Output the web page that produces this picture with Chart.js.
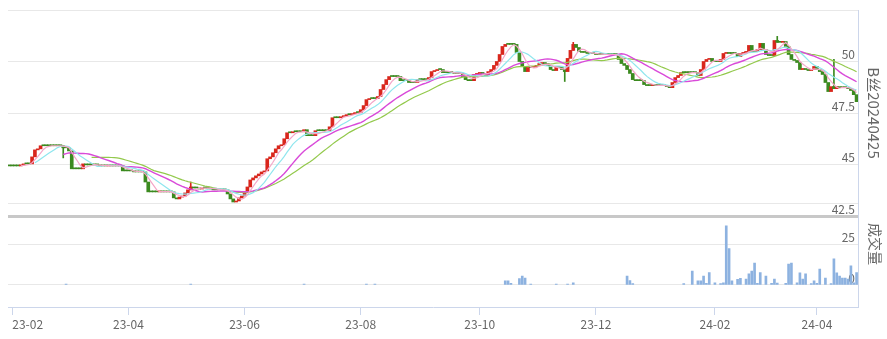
<!DOCTYPE html>
<html>
<head>
<meta charset="utf-8">
<script src="https://cdn.jsdelivr.net/npm/chart.js@4.4.1/dist/chart.umd.min.js"></script>
<style>
  html, body { margin: 0; padding: 0; background: #fff; }
  #wrap { position: relative; width: 887px; height: 339px; }
  #wrap canvas { position: absolute; left: 0; top: 0; }
</style>
</head>
<body>
<div id="wrap">
  <canvas id="kline" width="887" height="339"></canvas>
  <canvas id="vol" width="887" height="339"></canvas>
</div>
<script>
// daily closes, one per trading day
var closes = [
  44.93,44.93,44.93,44.93,44.98,45.03,45.03,45.03,45.37,45.71,
  45.76,45.91,45.91,45.91,45.91,45.91,45.91,45.91,45.91,45.81,
  45.81,45.66,44.79,44.79,44.79,44.79,45.03,44.98,44.98,44.98,
  44.98,44.98,44.93,44.93,44.93,44.98,44.93,44.93,44.93,44.93,
  44.69,44.69,44.69,44.69,44.64,44.64,44.64,44.64,44.15,43.67,
  43.67,43.67,43.67,43.72,43.67,43.67,43.67,43.67,43.38,43.33,
  43.42,43.47,43.62,43.77,43.91,43.86,43.86,43.81,43.86,43.86,
  43.86,43.81,43.77,43.77,43.77,43.77,43.77,43.57,43.33,43.18,
  43.23,43.38,43.47,43.67,43.91,44.25,44.35,44.45,44.54,44.64,
  44.69,45.28,45.37,45.57,45.76,45.91,45.96,46.25,46.54,46.54,
  46.59,46.59,46.59,46.59,46.69,46.40,46.40,46.40,46.64,46.64,
  46.64,46.64,46.64,46.83,47.27,47.27,47.27,47.32,47.37,47.42,
  47.42,47.47,47.52,47.52,47.66,47.86,48.15,48.20,48.20,48.20,
  48.30,48.64,48.88,49.12,49.27,49.27,49.27,49.27,49.07,49.07,
  49.07,48.98,48.98,48.98,49.12,49.12,49.12,49.12,49.22,49.51,
  49.56,49.61,49.61,49.46,49.46,49.46,49.46,49.42,49.42,49.42,
  49.27,49.12,49.07,49.07,49.37,49.42,49.46,49.42,49.32,49.51,
  49.61,49.81,50.00,50.34,50.73,50.83,50.83,50.83,50.83,50.44,
  50.00,49.76,49.51,49.71,49.71,49.76,49.81,49.90,49.95,49.90,
  49.81,49.61,49.56,49.76,49.71,49.61,49.51,50.15,50.54,50.83,
  50.68,50.49,50.44,50.44,50.39,50.39,50.39,50.34,50.34,50.34,
  50.34,50.34,50.34,50.34,50.34,50.10,49.90,49.81,49.61,49.42,
  49.12,49.07,49.07,49.07,48.88,48.83,48.83,48.88,48.83,48.83,
  48.83,48.83,48.78,48.73,48.98,49.22,49.32,49.46,49.46,49.46,
  49.46,49.46,49.46,49.32,49.61,50.00,50.10,50.15,50.00,50.00,
  50.00,50.10,50.39,50.44,50.39,50.39,50.39,50.24,50.39,50.44,
  50.49,50.78,50.49,50.49,50.58,50.88,50.58,50.34,50.29,50.29,
  51.02,50.93,50.93,50.97,50.73,50.34,50.10,50.05,49.95,49.61,
  49.66,49.61,49.56,49.61,49.76,49.61,49.51,49.37,48.98,48.54,
  48.78,48.68,48.78,48.73,48.73,48.73,48.68,48.59,48.39,48.05
];

// daily opens (the candles open where the previous one closed)
var opens = [
  44.93,44.93,44.93,44.93,44.93,44.98,45.03,45.03,45.03,45.37,
  45.71,45.76,45.91,45.91,45.91,45.91,45.91,45.91,45.91,45.91,
  45.81,45.81,45.66,44.79,44.79,44.79,44.79,45.03,44.98,44.98,
  44.98,44.98,44.98,44.93,44.93,44.93,44.98,44.93,44.93,44.93,
  44.93,44.69,44.69,44.69,44.69,44.64,44.64,44.64,44.64,44.15,
  43.67,43.67,43.67,43.67,43.72,43.67,43.67,43.67,43.67,43.38,
  43.33,43.42,43.47,43.62,43.77,43.91,43.86,43.86,43.81,43.86,
  43.86,43.86,43.81,43.77,43.77,43.77,43.77,43.77,43.57,43.33,
  43.18,43.23,43.38,43.47,43.67,43.91,44.25,44.35,44.45,44.54,
  44.64,44.69,45.28,45.37,45.57,45.76,45.91,45.96,46.25,46.54,
  46.54,46.59,46.59,46.59,46.59,46.69,46.40,46.40,46.40,46.64,
  46.64,46.64,46.64,46.64,46.83,47.27,47.27,47.27,47.32,47.37,
  47.42,47.42,47.47,47.52,47.52,47.66,47.86,48.15,48.20,48.20,
  48.20,48.30,48.64,48.88,49.12,49.27,49.27,49.27,49.27,49.07,
  49.07,49.07,48.98,48.98,48.98,49.12,49.12,49.12,49.12,49.22,
  49.51,49.56,49.61,49.61,49.46,49.46,49.46,49.46,49.42,49.42,
  49.42,49.27,49.12,49.07,49.07,49.37,49.42,49.46,49.42,49.32,
  49.51,49.61,49.81,50.00,50.34,50.73,50.83,50.83,50.83,50.83,
  50.44,50.00,49.76,49.51,49.71,49.71,49.76,49.81,49.90,49.95,
  49.90,49.81,49.61,49.56,49.76,49.71,49.61,49.51,50.15,50.54,
  50.83,50.68,50.49,50.44,50.44,50.39,50.39,50.39,50.34,50.34,
  50.34,50.34,50.34,50.34,50.34,50.34,50.10,49.90,49.81,49.61,
  49.42,49.12,49.07,49.07,49.07,48.88,48.83,48.83,48.88,48.83,
  48.83,48.83,48.83,48.78,48.73,48.98,49.22,49.32,49.46,49.46,
  49.46,49.46,49.46,49.46,49.32,49.61,50.00,50.10,50.15,50.00,
  50.00,50.00,50.10,50.39,50.44,50.39,50.39,50.39,50.24,50.39,
  50.44,50.49,50.78,50.49,50.49,50.58,50.88,50.58,50.34,50.29,
  50.29,51.02,50.93,50.93,50.97,50.73,50.34,50.10,50.05,49.95,
  49.61,49.66,49.61,49.56,49.61,49.76,49.61,49.51,49.37,48.98,
  48.54,48.78,48.68,48.78,48.73,48.73,48.73,48.68,48.59,48.39
];

// the few candles with visible shadows
var wickIdx  = [19,    64,    196,   199,   271,   291];
var wickHigh = [45.91, 44.15, 49.61, 50.93, 51.22, 50.10];
var wickLow  = [45.32, 43.77, 49.03, 50.54, 50.93, 48.68];

// volume (only days with a visible bar)
var volIdx = [20,64,104,126,129,175,176,177,180,181,182,184,193,197,199,218,219,220,238,241,
  243,244,245,246,247,249,251,252,253,254,255,257,258,260,261,262,263,264,265,267,
  269,270,271,274,275,276,278,279,280,281,283,284,285,286,288,290,291,292,293,294,
  295,296,297,298,299];
var volVal = [0.5,0.5,0.5,0.5,0.5,2.5,2.5,1,4,5.5,4.3,0.6,0.6,0.6,1.4,5.5,2.7,0.8,0.8,8.6,
  2.5,2.5,5.5,1,7.6,1.4,0.8,1.4,36.3,22.3,2.5,3.5,4.1,3.7,6.8,8.6,13.5,1,7.6,5.5,
  1,3.7,1.2,1,12.9,13.5,1.4,7.4,3.7,6.8,0.8,2.5,1,9.8,4.3,0.8,16,7.4,5.5,4.3,
  4.3,3.7,11.7,1.4,7.6];

var tickPos = [1, 42, 83, 124, 166, 207, 249, 285];
var tickLabels = ['23-02', '23-04', '23-06', '23-08', '23-10', '23-12', '24-02', '24-04'];
var priceTicks = [42.5, 45, 47.5, 50, 52.5];
var volTicks = [0, 25, 50];
var maDays = [5, 10, 20, 30];
var maColors = ['#f4a6c8', '#8fe6ee', '#d94ad9', '#93c94c'];

var UP = '#d9261c';
var DOWN = '#3b8a1f';
var lastIdx = closes.length - 1;

Chart.defaults.font.family = "'Microsoft YaHei', 'Noto Sans CJK SC', 'Noto Sans', sans-serif";
Chart.defaults.color = '#666';

function movingAvg(n) {
  var out = [];
  for (var i = n - 1; i < closes.length; i++) {
    var s = 0;
    for (var k = i - n + 1; k <= i; k++) s += closes[k];
    out.push({x: i, y: s / n});
  }
  return out;
}

var bodyColors = closes.map(function(c, i) { return c > opens[i] ? UP : DOWN; });

var bodies = closes.map(function(c, i) { return {x: i, y: [opens[i], c]}; });
var wicks = wickIdx.map(function(idx, k) {
  var o = opens[idx], c = closes[idx];
  return {x: idx, y: [Math.min(o, c, wickLow[k]), Math.max(o, c, wickHigh[k])]};
});
var wickColors = wickIdx.map(function(idx) { return bodyColors[idx]; });

var datasets = maDays.map(function(n, k) {
  return {
    type: 'line',
    data: movingAvg(n),
    borderColor: maColors[k],
    borderWidth: n == 20 ? 1.4 : 1.2,
    pointRadius: 0,
    tension: 0,
    order: 0
  };
});
datasets.push({
  type: 'bar', data: wicks, backgroundColor: wickColors,
  barThickness: 1, grouped: false, order: 2
});
datasets.push({
  type: 'bar', data: bodies, backgroundColor: bodyColors,
  barThickness: 3, minBarLength: 1, grouped: false, order: 1
});

new Chart(document.getElementById('kline'), {
  type: 'bar',
  data: { datasets: datasets },
  options: {
    responsive: false,
    animation: false,
    layout: { padding: { left: 8, top: 10, right: 0, bottom: 123 } },
    plugins: { legend: { display: false }, tooltip: { enabled: false } },
    scales: {
      x: { type: 'linear', min: -0.5, max: lastIdx + 0.5, offset: false, display: false },
      y: {
        position: 'right', min: 42.5, max: 52.5,
        afterFit: function(s) { s.width = 29; },
        afterBuildTicks: function(s) { s.ticks = priceTicks.map(function(v) { return {value: v}; }); },
        ticks: {
          mirror: true, padding: -3, labelOffset: -7, font: { size: 12 }, color: '#666',
          callback: function(v) { return v == 52.5 ? '' : String(v); }
        },
        grid: {
          drawTicks: false,
          color: function(ctx) { return ctx.tick && ctx.tick.value == 42.5 ? '#c8c8c8' : '#e8e8e8'; },
          lineWidth: function(ctx) { return ctx.tick && ctx.tick.value == 42.5 ? 3 : 1; }
        },
        border: { color: '#ccd6eb' },
        title: { display: true, text: 'B丝20240425', font: { size: 15 }, color: '#666' }
      }
    }
  }
});

// the volume axis title sits centred on the volume grid, above the offset x axis
var volTitle = {
  id: 'volTitle',
  afterDraw: function(chart) {
    var c = chart.ctx;
    c.save();
    c.translate(875, 244);
    c.rotate(Math.PI / 2);
    c.font = "14px 'Microsoft YaHei', 'Noto Sans CJK SC', sans-serif";
    c.fillStyle = '#666';
    c.textAlign = 'center';
    c.textBaseline = 'middle';
    c.fillText('成交量', 0, 0);
    c.restore();
  }
};

new Chart(document.getElementById('vol'), {
  type: 'bar',
  data: {
    datasets: [{
      data: volIdx.map(function(x, k) { return {x: x, y: volVal[k]}; }),
      backgroundColor: '#8db2e0',
      barThickness: 2
    }]
  },
  plugins: [volTitle],
  options: {
    responsive: false,
    animation: false,
    layout: { padding: { left: 8, top: 203.5, right: 0, bottom: 6 } },
    plugins: { legend: { display: false }, tooltip: { enabled: false } },
    scales: {
      x: {
        type: 'linear', min: -0.5, max: lastIdx + 0.5, offset: false,
        afterFit: function(s) { s.height = 26; },
        afterBuildTicks: function(s) {
          s.ticks = tickPos.map(function(v) { return {value: v}; }).concat([{value: lastIdx + 0.5}]);
        },
        ticks: {
          autoSkip: false, maxRotation: 0, align: 'inner', padding: 2, font: { size: 12 }, color: '#666',
          callback: function(v) { var k = tickPos.indexOf(v); return k < 0 ? '' : tickLabels[k]; }
        },
        grid: {
          offset: false, drawOnChartArea: false, tickLength: 8,
          color: function(ctx) { return ctx.tick && ctx.tick.value > lastIdx ? 'rgba(0,0,0,0)' : '#ccd6eb'; }
        },
        border: { color: '#ccd6eb' }
      },
      y: {
        position: 'right', min: -13.5, max: 50, z: 1,
        afterFit: function(s) { s.width = 29; },
        afterBuildTicks: function(s) { s.ticks = volTicks.map(function(v) { return {value: v}; }); },
        ticks: {
          mirror: true, padding: -3, labelOffset: -7, font: { size: 12 }, color: '#666',
          callback: function(v) { return v == 50 ? '' : String(v); }
        },
        grid: { drawTicks: false, color: '#e8e8e8' },
        border: { color: '#ccd6eb' }
      }
    }
  }
});
</script>
</body>
</html>
